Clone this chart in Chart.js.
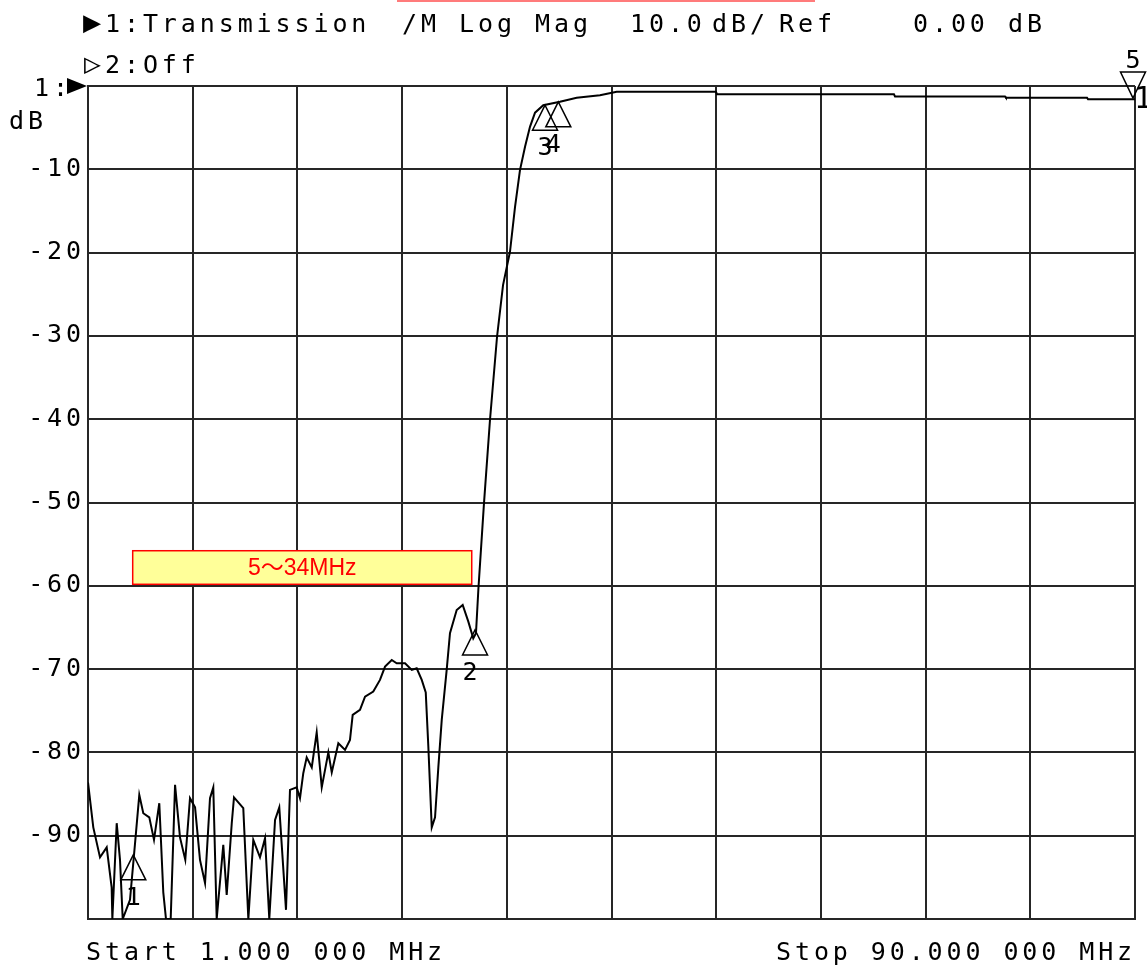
<!DOCTYPE html>
<html>
<head>
<meta charset="utf-8">
<script src="https://cdn.jsdelivr.net/npm/chart.js@4.4.0/dist/chart.umd.min.js"></script>
<style>
  html, body { margin: 0; padding: 0; background: #fff; }
</style>
</head>
<body>
<canvas id="myChart" width="1147" height="965"></canvas>
<script>
// sweep: start / stop in MHz, 10 divisions
const startMHz = 1;
const stopMHz = 90;
const divisions = 10;

const yTicksDb = [0, -10, -20, -30, -40, -50, -60, -70, -80, -90, -100];

// trace 1, transmission
const freqMHz = [
  1.00, 1.45, 2.02, 2.59, 3.01, 3.07, 3.44, 3.72, 3.95, 4.57,
  5.00, 5.36, 5.70, 6.21, 6.61, 7.06, 7.40, 7.63, 8.03, 8.40,
  8.82, 9.27, 9.67, 10.10, 10.52, 10.95, 11.37, 11.65, 11.94, 12.50,
  12.79, 13.22, 13.41, 14.20, 14.63, 15.05, 15.62, 16.05, 16.41, 16.90,
  17.26, 17.83, 18.17, 18.74, 19.02, 19.30, 19.59, 20.02, 20.44, 20.87,
  21.43, 21.72, 22.28, 22.85, 23.27, 23.50, 24.12, 24.55, 25.25, 25.82,
  26.25, 26.82, 27.24, 27.95, 28.52, 28.94, 29.37, 29.71, 29.93, 30.22,
  30.50, 30.78, 31.07, 31.49, 31.77, 32.34, 32.85, 33.33, 33.75, 33.98,
  34.18, 34.66, 35.17, 35.77, 36.28, 36.87, 37.30, 37.72, 38.15, 38.57,
  39.00, 39.70, 41.12, 42.54, 44.52, 45.94, 54.38, 54.47, 69.51, 69.60,
  78.95, 79.03, 85.92, 86.01, 90.00
];
const transmissionDb = [
  -83.6, -89.0, -92.6, -91.4, -96.2, -100, -88.5, -92.9, -100, -97.7,
  -90.9, -85.1, -87.3, -87.8, -90.5, -86.1, -96.8, -100, -100, -83.9,
  -90.2, -92.9, -85.5, -86.6, -92.9, -95.7, -85.5, -84.2, -100, -91.1,
  -97.1, -88.5, -85.4, -86.7, -100, -90.5, -92.6, -90.3, -100, -88.1,
  -86.6, -98.9, -84.5, -84.2, -85.5, -82.5, -80.6, -81.8, -77.6, -84.2,
  -80.0, -82.4, -78.9, -79.7, -78.5, -75.5, -74.9, -73.3, -72.7, -71.3,
  -69.7, -68.9, -69.3, -69.3, -70.1, -69.9, -71.3, -72.8, -79.3, -89.0,
  -87.8, -81.8, -76.1, -70.1, -65.7, -62.9, -62.3, -64.3, -66.3, -65.7,
  -60.5, -50.1, -40.1, -30.1, -23.9, -19.9, -14.5, -10.1, -7.3, -4.9,
  -3.2, -2.3, -1.9, -1.4, -1.1, -0.7, -0.7, -1.0, -1.0, -1.25,
  -1.25, -1.4, -1.4, -1.6, -1.6
];

// markers
const markerNames = ['1', '2', '3', '4', '5'];
const markerMHz = [4.85, 33.9, 39.85, 40.98, 89.83];
const markerDb = [-92.3, -65.3, -2.3, -1.9, -1.45];

const MONO = '"DejaVu Sans Mono", monospace';
const GRID = '#262626';
const FS = 25;      // analyser font size
const LS = 3.9;     // extra letter pitch

const gridMHz = [];
for (let i = 0; i <= divisions; i++) {
  gridMHz.push(startMHz + (stopMHz - startMHz) * i / divisions);
}

function monoText(ctx, str, x, y, size, spacing, align) {
  ctx.save();
  ctx.font = size + 'px ' + MONO;
  ctx.letterSpacing = spacing + 'px';
  ctx.fillStyle = '#000';
  ctx.textBaseline = 'alphabetic';
  ctx.textAlign = align || 'left';
  ctx.fillText(str, x, y);
  ctx.restore();
}

const screenText = {
  id: 'screenText',
  beforeDraw(chart) {
    // wide letter pitch for the analyser font (axis labels too)
    chart.ctx.letterSpacing = LS + 'px';
  },
  afterDraw(chart) {
    const ctx = chart.ctx;
    ctx.save();
    ctx.letterSpacing = '0px';

    // red edge left over at the top
    ctx.fillStyle = '#ff7b7b';
    ctx.fillRect(397, 0, 418, 2);

    // header
    monoText(ctx, '\u25B6', 83, 32, 30, 0);
    monoText(ctx, '1:Transmission', 105, 32, FS, LS);
    monoText(ctx, '/M', 402, 32, FS, LS);
    monoText(ctx, 'Log', 459, 32, FS, LS);
    monoText(ctx, 'Mag', 535, 32, FS, LS);
    monoText(ctx, '10.0', 630, 32, FS, LS);
    monoText(ctx, 'dB/', 712, 32, FS, LS);
    monoText(ctx, 'Ref', 779, 32, FS, LS);
    monoText(ctx, '0.00', 913, 32, FS, LS);
    monoText(ctx, 'dB', 1008, 32, FS, LS);
    monoText(ctx, '\u25B7', 84, 73, 28, 0);
    monoText(ctx, '2:Off', 105, 73, FS, LS);

    // reference line label
    monoText(ctx, '1:', 34, 96, FS, LS);
    monoText(ctx, 'dB', 9, 129, FS, LS);
    const y = chart.scales.y;
    const ry = y.getPixelForValue(0);
    ctx.fillStyle = '#000';
    ctx.beginPath();
    ctx.moveTo(67, ry - 8);
    ctx.lineTo(87, ry);
    ctx.lineTo(67, ry + 8);
    ctx.closePath();
    ctx.fill();

    // footer
    monoText(ctx, 'Start 1.000 000 MHz', 86, 960, FS, LS);
    monoText(ctx, 'Stop 90.000 000 MHz', 776, 960, FS, LS);

    // band note
    const x = chart.scales.x;
    const bx0 = x.getPixelForValue(4.80), bx1 = x.getPixelForValue(33.62);
    const by0 = y.getPixelForValue(-55.79), by1 = y.getPixelForValue(-59.82);
    ctx.fillStyle = '#ffff99';
    ctx.fillRect(bx0, by0, bx1 - bx0, by1 - by0);
    ctx.strokeStyle = '#ff0000';
    ctx.lineWidth = 1.5;
    ctx.strokeRect(bx0, by0, bx1 - bx0, by1 - by0);
    ctx.fillStyle = '#ff0000';
    ctx.font = '23px "Liberation Sans", "Noto Sans CJK JP", sans-serif';
    ctx.textAlign = 'center';
    ctx.textBaseline = 'middle';
    ctx.fillText('5\uFF5E34MHz', (bx0 + bx1) / 2, (by0 + by1) / 2 + 1);
    ctx.restore();
  },
  afterDatasetsDraw(chart) {
    const ctx = chart.ctx;
    const x = chart.scales.x, y = chart.scales.y;
    ctx.save();
    ctx.letterSpacing = '0px';
    ctx.strokeStyle = '#000';
    ctx.lineWidth = 1.5;
    markerMHz.forEach((f, i) => {
      const px = x.getPixelForValue(f);
      const py = y.getPixelForValue(markerDb[i]);
      const down = i === 4;
      const h = down ? -26 : 25;
      ctx.beginPath();
      ctx.moveTo(px, py);
      ctx.lineTo(px - 12.5, py + h);
      ctx.lineTo(px + 12.5, py + h);
      ctx.closePath();
      ctx.stroke();
      const lx = (i === 1 || i === 3) ? px - 5 : px;
      const ly = down ? py - 30 : py + 50;
      monoText(ctx, markerNames[i], lx, ly, 25, 0, 'center');
    });
    // cut-off "1" at the right edge
    monoText(ctx, '1', 1134, 108, 30, 0);
    ctx.restore();
  }
};

const ctx = document.getElementById('myChart');

new Chart(ctx, {
  type: 'line',
  data: {
    datasets: [{
      label: 'Transmission',
      data: freqMHz.map((f, i) => ({ x: f, y: transmissionDb[i] })),
      borderColor: '#000',
      borderWidth: 2,
      pointRadius: 0,
      tension: 0,
      fill: false
    }]
  },
  options: {
    responsive: false,
    animation: false,
    layout: { padding: { top: 86, right: 12, bottom: 46, left: 0 } },
    plugins: {
      legend: { display: false },
      tooltip: { enabled: false }
    },
    scales: {
      x: {
        type: 'linear',
        min: startMHz,
        max: stopMHz,
        afterBuildTicks: scale => { scale.ticks = gridMHz.map(v => ({ value: v })); },
        afterFit: scale => { scale.height = 0; },
        ticks: { display: false },
        grid: { color: GRID, lineWidth: 2, drawTicks: false },
        border: { color: GRID, width: 2 }
      },
      y: {
        min: -100,
        max: 0,
        afterBuildTicks: scale => { scale.ticks = yTicksDb.map(v => ({ value: v })); },
        afterFit: scale => { scale.width = 88; },
        ticks: {
          color: '#000',
          padding: 3,
          font: { family: MONO, size: FS },
          callback: v => (v === 0 || v === -100) ? '' : String(v)
        },
        grid: { color: GRID, lineWidth: 2, drawTicks: false },
        border: { color: GRID, width: 2 }
      }
    }
  },
  plugins: [screenText]
});
</script>
</body>
</html>
